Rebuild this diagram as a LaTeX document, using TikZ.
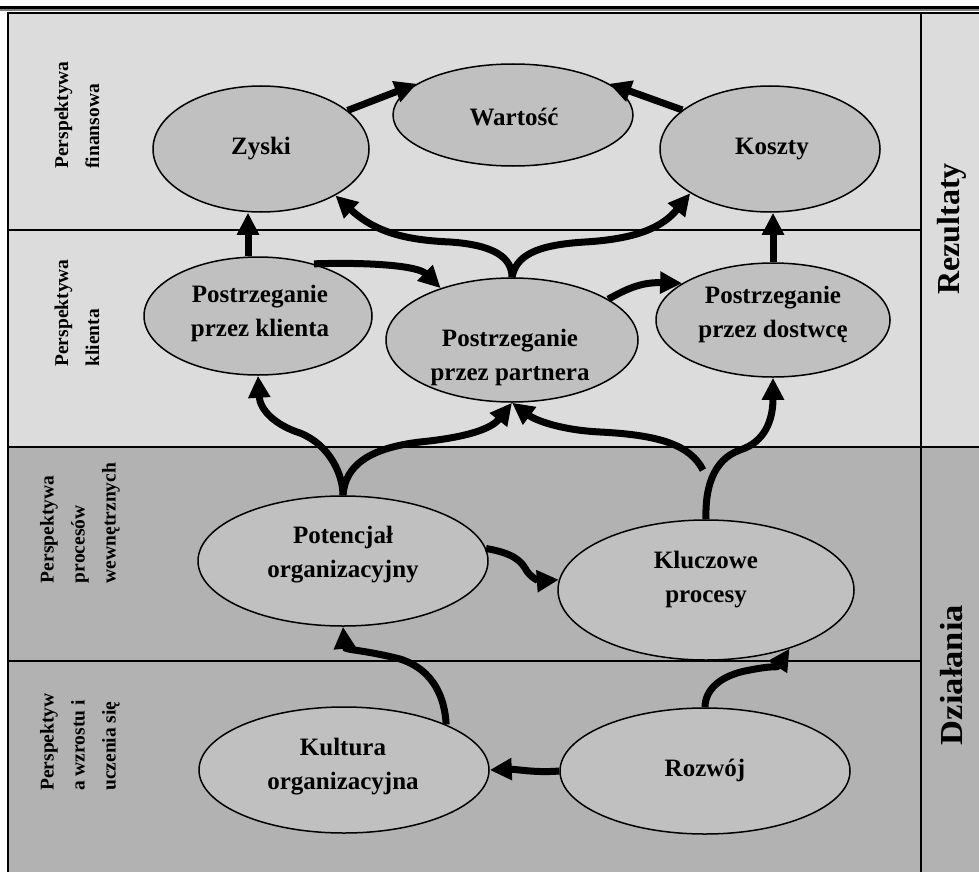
\documentclass[tikz,border=0pt]{standalone}
\usepackage{fontspec}
\setmainfont{Liberation Serif}
\usetikzlibrary{arrows.meta,shapes.geometric}
\definecolor{bglight}{gray}{0.863}
\definecolor{bgdark}{gray}{0.70}
\definecolor{ellfill}{gray}{0.753}
\begin{document}
\begin{tikzpicture}[x=1pt,y=-1pt,
 ell/.style={ellipse,draw=black,line width=1.5pt,fill=ellfill,inner sep=0pt},
 etxt/.style={font=\fontsize{25}{34}\selectfont\bfseries,align=center,inner sep=0pt},
 ltxt/.style={font=\fontsize{19.5}{31}\selectfont\bfseries,align=left,rotate=90,inner sep=0pt},
 rtxt/.style={font=\fontsize{32}{38}\selectfont\bfseries,rotate=90,inner sep=0pt},
 arr/.style={line width=7pt,-{Triangle[length=22pt,width=21pt]}},
 boxline/.style={line width=2pt},
 bandline/.style={line width=1.5pt}]
\useasboundingbox (0,0) rectangle (979,872);
% backgrounds
\fill[bglight] (8,13) rectangle (979,447);
\fill[bgdark] (8,447) rectangle (979,872);
% top rules
\draw[line width=3pt] (0,7.3) -- (979,7.3);
\draw[line width=2pt,gray] (0,10.5) -- (979,10.5);
% frame
\draw[boxline] (8,872) -- (8,13.5) -- (979,13.5);
\draw[boxline] (921,13.5) -- (921,872);
\draw[bandline] (8,230) -- (921,230);
\draw[bandline] (8,447) -- (979,447);
\draw[bandline] (8,661) -- (921,661);
% side labels
\node[ltxt] (lab1) at (77,115) {Perspektywa\\finansowa};
\node[ltxt] (lab2) at (77,313) {Perspektywa\\klienta};
\node[ltxt] (lab3) at (80,523) {Perspektywa\\procesów\\wewnętrznych};
\node[ltxt] (lab4) at (80,742) {Perspektyw\\a wzrostu i\\uczenia się};
\node[rtxt] (rez) at (952,229) {Rezultaty};
\node[rtxt] (dzial) at (952,675) {\scalebox{1.08}[1]{Działania}};
% ellipses
\node[ell,minimum width=216pt,minimum height=126pt] (zyski) at (261,149) {};
\node[ell,minimum width=240pt,minimum height=102pt] (wartosc) at (513,115) {};
\node[ell,minimum width=220pt,minimum height=126pt] (koszty) at (770,149) {};
\node[ell,minimum width=228pt,minimum height=118pt] (klient) at (258,316) {};
\node[ell,minimum width=252pt,minimum height=124pt] (partner) at (512,340) {};
\node[ell,minimum width=234pt,minimum height=114pt] (dostwce) at (773,320) {};
\node[ell,minimum width=290pt,minimum height=130pt] (potencjal) at (343,561) {};
\node[ell,minimum width=296pt,minimum height=140pt] (kluczowe) at (706,590) {};
\node[ell,minimum width=290pt,minimum height=126pt] (kultura) at (344,770) {};
\node[ell,minimum width=290pt,minimum height=126pt] (rozwoj) at (705,771) {};
% texts
\node[etxt] (zyski-t) at (261,149) {Zyski};
\node[etxt] (wartosc-t) at (514,117) {Wartość};
\node[etxt] (koszty-t) at (772,149) {Koszty};
\node[etxt] (klient-t) at (260,313) {Postrzeganie\\przez klienta};
\node[etxt] (partner-t) at (510,357) {Postrzeganie\\przez partnera};
\node[etxt] (dostwce-t) at (773,314) {Postrzeganie\\przez dostwcę};
\node[etxt] (potencjal-t) at (343,555) {Potencjał\\organizacyjny};
\node[etxt] (kluczowe-t) at (706,580) {Kluczowe\\procesy};
\node[etxt] (kultura-t) at (343,767) {Kultura\\organizacyjna};
\node[etxt] (rozwoj-t) at (705,770) {Rozwój};
% connectors
\draw[arr] (zyski.24) -- (wartosc.162);
\draw[arr] (koszty.156) -- (wartosc.18);
\draw[arr] ([xshift=-10pt]klient.north) -- ([xshift=-10pt]klient.north |- zyski.south);
\draw[arr] (dostwce.north) -- (dostwce.north |- koszty.south);
\draw[arr] (klient.43) .. controls (372,262) and (418,266) .. (partner.144);
\draw[arr] (partner.north) .. controls (512,258) and (495,245) .. (450,242)
   .. controls (405,240) and (375,232) .. (zyski.-32);
\draw[arr] (partner.north) .. controls (516,256) and (535,245) .. (585,242)
   .. controls (635,239) and (662,228) .. (koszty.-151);
\draw[arr] (partner.23) .. controls (625,290) and (640,282) .. (dostwce.158);
\draw[arr] (potencjal.north) .. controls (343,475) and (330,445) .. (300,433)
   .. controls (275,425) and (260,410) .. (klient.south);
\draw[arr] (potencjal.north) .. controls (345,465) and (370,448) .. (420,442)
   .. controls (470,437) and (492,428) .. (partner.south);
\coordinate (branch) at (703,470);
\draw[arr] (branch) .. controls (690,445) and (660,435) .. (600,432)
   .. controls (560,430) and (535,420) .. (partner.south);
\draw[arr] (kluczowe.north) .. controls (705,490) and (712,460) .. (740,450)
   .. controls (765,442) and (773,420) .. (dostwce.south);
\draw[arr] (potencjal.5) .. controls (512,553) and (520,560) .. (525,568)
   .. controls (530,578) and (540,581) .. (kluczowe.176);
\draw[arr] (kultura.24) .. controls (445,700) and (435,670) .. (400,659)
   .. controls (365,650) and (345,650) .. (potencjal.south);
\draw[arr] (rozwoj.north) .. controls (705,690) and (720,675) .. (750,670)
   .. controls (775,665) and (777,668) .. (kluczowe.-35);
\draw[arr] (rozwoj.west) .. controls (535,773) and (515,769) .. (kultura.east);
\end{tikzpicture}
\end{document}
